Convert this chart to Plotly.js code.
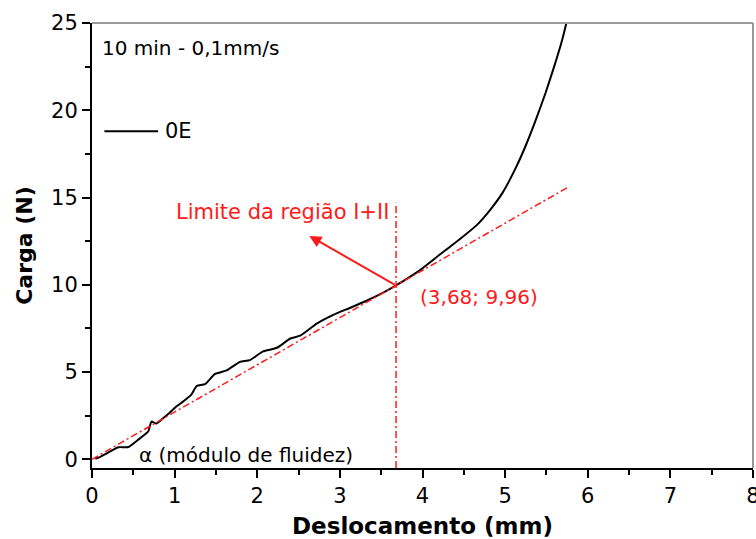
<!DOCTYPE html>
<html>
<head>
<meta charset="utf-8">
<script src="https://cdn.plot.ly/plotly-3.0.1.min.js"></script>
<style>
  html, body { margin: 0; padding: 0; background: #fff; }
  #chart { width: 756px; height: 539px; }
</style>
</head>
<body>
<div id="chart"></div>
<script>
// Load vs. displacement curve for sample 0E
const seriesName = '0E';
const deslocamento = [0.04, 0.10, 0.16, 0.22, 0.32, 0.44, 0.54, 0.62, 0.68, 0.72, 0.78, 0.86, 0.94, 1.02,
  1.105, 1.20, 1.267, 1.368, 1.489, 1.63, 1.79, 1.91, 2.07, 2.24, 2.40, 2.52, 2.72, 2.92, 3.12, 3.33,
  3.53, 3.68, 3.97, 4.21, 4.45, 4.65, 4.81, 4.97, 5.13, 5.25, 5.37, 5.49, 5.60, 5.68, 5.74, 5.77];
const carga = [0.03, 0.14, 0.29, 0.45, 0.69, 0.70, 1.05, 1.35, 1.59, 2.16, 2.05, 2.35, 2.67, 3.02,
  3.32, 3.69, 4.20, 4.30, 4.89, 5.09, 5.58, 5.68, 6.18, 6.39, 6.92, 7.08, 7.77, 8.27, 8.67, 9.10,
  9.56, 9.96, 10.84, 11.73, 12.61, 13.39, 14.24, 15.28, 16.71, 17.98, 19.43, 21.00, 22.60, 23.85, 24.97, 25.60];

// Fitted straight line (fluidity modulus) and limit of region I+II
const retaX = [0.00, 3.68, 5.78];
const retaY = [0.00, 9.96, 15.64];
const limiteX = [3.68, 3.68];
const limiteY = [-0.5, 14.7];
const pontoLimite = [3.68, 9.96];
const setaPonta = [2.63, 12.8];

// Axis ticks and labels
const xTicks = [0, 1, 2, 3, 4, 5, 6, 7, 8];
const yTicks = [0, 5, 10, 15, 20, 25];

const red = '#ff1a1a';
const dashDot = '7px,3px,2px,3px';
const font = 'DejaVu Sans, Arial, sans-serif';

const traces = [
  {
    x: deslocamento, y: carga, type: 'scatter', mode: 'lines', name: seriesName,
    line: { color: '#000', width: 2, shape: 'spline', smoothing: 0.5 }, showlegend: false
  },
  {
    x: retaX, y: retaY, type: 'scatter', mode: 'lines',
    line: { color: red, width: 1.5, dash: dashDot }, showlegend: false
  },
  {
    x: limiteX, y: limiteY, type: 'scatter', mode: 'lines',
    line: { color: red, width: 1.5, dash: dashDot }, showlegend: false
  }
];

const fmt = v => String(v).replace('.', ',');

const layout = {
  width: 756, height: 539,
  margin: { l: 92, r: 3, t: 23, b: 71 },
  paper_bgcolor: '#fff', plot_bgcolor: '#fff',
  font: { family: font, color: '#000', size: 20 },
  xaxis: {
    range: [0, 8], showgrid: false, zeroline: false,
    showline: true, linecolor: '#000', linewidth: 2,
    ticks: 'outside', ticklen: 8, tickwidth: 2, tickcolor: '#000',
    tickvals: xTicks, ticktext: xTicks.map(String),
    ticklabeloverflow: 'allow',
    tickfont: { family: font, size: 21, color: '#000' },
    minor: { dtick: 0.5, ticks: 'outside', ticklen: 5, tickwidth: 2, tickcolor: '#000', showgrid: false },
    title: { text: '<b>Deslocamento (mm)</b>', font: { family: font, size: 23, color: '#000' }, standoff: 11 }
  },
  yaxis: {
    range: [-0.5, 25], showgrid: false, zeroline: false,
    showline: true, linecolor: '#000', linewidth: 2,
    ticks: 'outside', ticklen: 8, tickwidth: 2, tickcolor: '#000',
    tickvals: yTicks, ticktext: yTicks.map(String),
    tickfont: { family: font, size: 21, color: '#000' },
    minor: { dtick: 2.5, ticks: 'outside', ticklen: 5, tickwidth: 2, tickcolor: '#000', showgrid: false },
    title: { text: '<b>Carga (N)</b>', font: { family: font, size: 22, color: '#000' }, standoff: 12 }
  },
  shapes: [
    // frame: top and right edges
    { type: 'line', xref: 'paper', yref: 'paper', x0: 0, x1: 1, y0: 1, y1: 1, line: { color: '#9a9a9a', width: 2 } },
    { type: 'line', xref: 'paper', yref: 'paper', x0: 1, x1: 1, y0: 0, y1: 1, line: { color: '#9a9a9a', width: 2 } },
    // legend sample line
    { type: 'line', xref: 'x', yref: 'y', x0: 0.15, x1: 0.8, y0: 18.8, y1: 18.8, line: { color: '#000', width: 2 } }
  ],
  annotations: [
    { x: 0.1, y: 23.55, xref: 'x', yref: 'y', text: '10 min - 0,1mm/s', showarrow: false,
      xanchor: 'left', yanchor: 'middle', font: { family: font, size: 20, color: '#000' } },
    { x: 0.86, y: 18.8, xref: 'x', yref: 'y', text: seriesName, showarrow: false,
      xanchor: 'left', yanchor: 'middle', font: { family: font, size: 21, color: '#000' } },
    { x: 0.55, y: 0.25, xref: 'x', yref: 'y', text: 'α (módulo de fluidez)', showarrow: false,
      xanchor: 'left', yanchor: 'middle', font: { family: font, size: 20, color: '#000' } },
    { x: 2.31, y: 14.15, xref: 'x', yref: 'y', text: 'Limite da região I+II', showarrow: false,
      xanchor: 'center', yanchor: 'middle', font: { family: font, size: 21, color: red } },
    { x: 3.95, y: 9.3, xref: 'x', yref: 'y', text: '(' + fmt(pontoLimite[0]) + '; ' + fmt(pontoLimite[1]) + ')', showarrow: false,
      xanchor: 'left', yanchor: 'middle', font: { family: font, size: 20, color: red } },
    // arrow pointing from the limit point towards the label
    { x: setaPonta[0], y: setaPonta[1], xref: 'x', yref: 'y',
      ax: pontoLimite[0], ay: pontoLimite[1], axref: 'x', ayref: 'y',
      text: '', showarrow: true, arrowhead: 2, arrowsize: 1.2, arrowwidth: 2, arrowcolor: red, standoff: 0 }
  ]
};

Plotly.newPlot('chart', traces, layout, { displayModeBar: false, staticPlot: true });
</script>
</body>
</html>
